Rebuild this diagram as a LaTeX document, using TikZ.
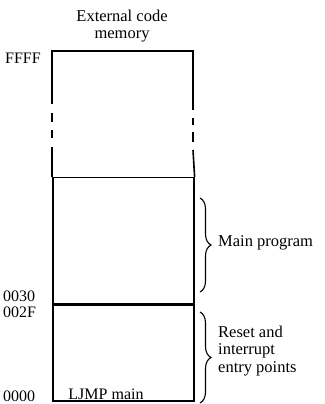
\documentclass[tikz,border=0pt]{standalone}
\usepackage{fontspec}
\setmainfont{Liberation Serif}
\usetikzlibrary{positioning,decorations.pathreplacing}
\tikzset{
    % memory regions and labels
    region/.style={
        rectangle,
        draw=black,
        line width=1.6pt,
        inner sep=0pt,
        minimum width=141pt
    },
    address/.style={
        anchor=base west,
        inner sep=0pt,
        font=\fontsize{16}{18}\selectfont
    },
    label text/.style={
        anchor=west,
        inner sep=0pt,
        align=left,
        font=\fontsize{16.5}{17.5}\selectfont
    },
    border/.style={
        line width=1.6pt,
        draw=black
    },
    bracket/.style={
        decorate,
        decoration={brace,amplitude=11pt},
        line width=1.1pt
    }
}
\begin{document}
\begin{tikzpicture}[x=1pt,y=1pt]
    \useasboundingbox (0,0) rectangle (324,404);
    % Regions
    \node[region, minimum height=96pt, anchor=south west] (reset) at (52,2) {};
    \node[region, minimum height=126pt, anchor=south west] (main) at (reset.north west) {};
    \coordinate (topleft) at (52,353);
    \coordinate (topright) at (193,353);

    % Top region with broken sides
    \draw[border] (main.north west) -- (52,257);
    \draw[border] (52,274) -- (52,266);
    \draw[border] (52,291) -- (52,282);
    \draw[border] (52,300) -- (topleft) -- (topright) -- (193,294);
    \draw[border] (193,286) -- (193,279);
    \draw[border] (193,272) -- (193,262);
    \draw[border] (193,254) -- (main.north east);

    % Texts
    \node[align=center, inner sep=0pt, font=\fontsize{16.5}{17}\selectfont] (title) at (122,378) {External code\\memory};
    \node[address] (ffff) at (5,340) {FFFF};
    \node[address] (a0030) at (3,102) {0030};
    \node[address] (a002f) at (3,86) {002F};
    \node[address] (a0000) at (3,2) {0000};
    \node[anchor=base, inner sep=0pt, font=\fontsize{16}{18}\selectfont] (ljmp) at (106,5) {LJMP main};

    % Braces
    \coordinate (mtop) at (200,206);
    \coordinate (mbot) at (200,112);
    \coordinate (rtop) at (200,92);
    \coordinate (rbot) at (200,1);
    \draw[bracket] (mtop) -- (mbot);
    \draw[bracket] (rtop) -- (rbot);
    \node[label text] (mainlabel) at (218,161) {Main program};
    \node[label text] (resetlabel) at (218,53) {Reset and\\interrupt\\entry points};
\end{tikzpicture}
\end{document}
